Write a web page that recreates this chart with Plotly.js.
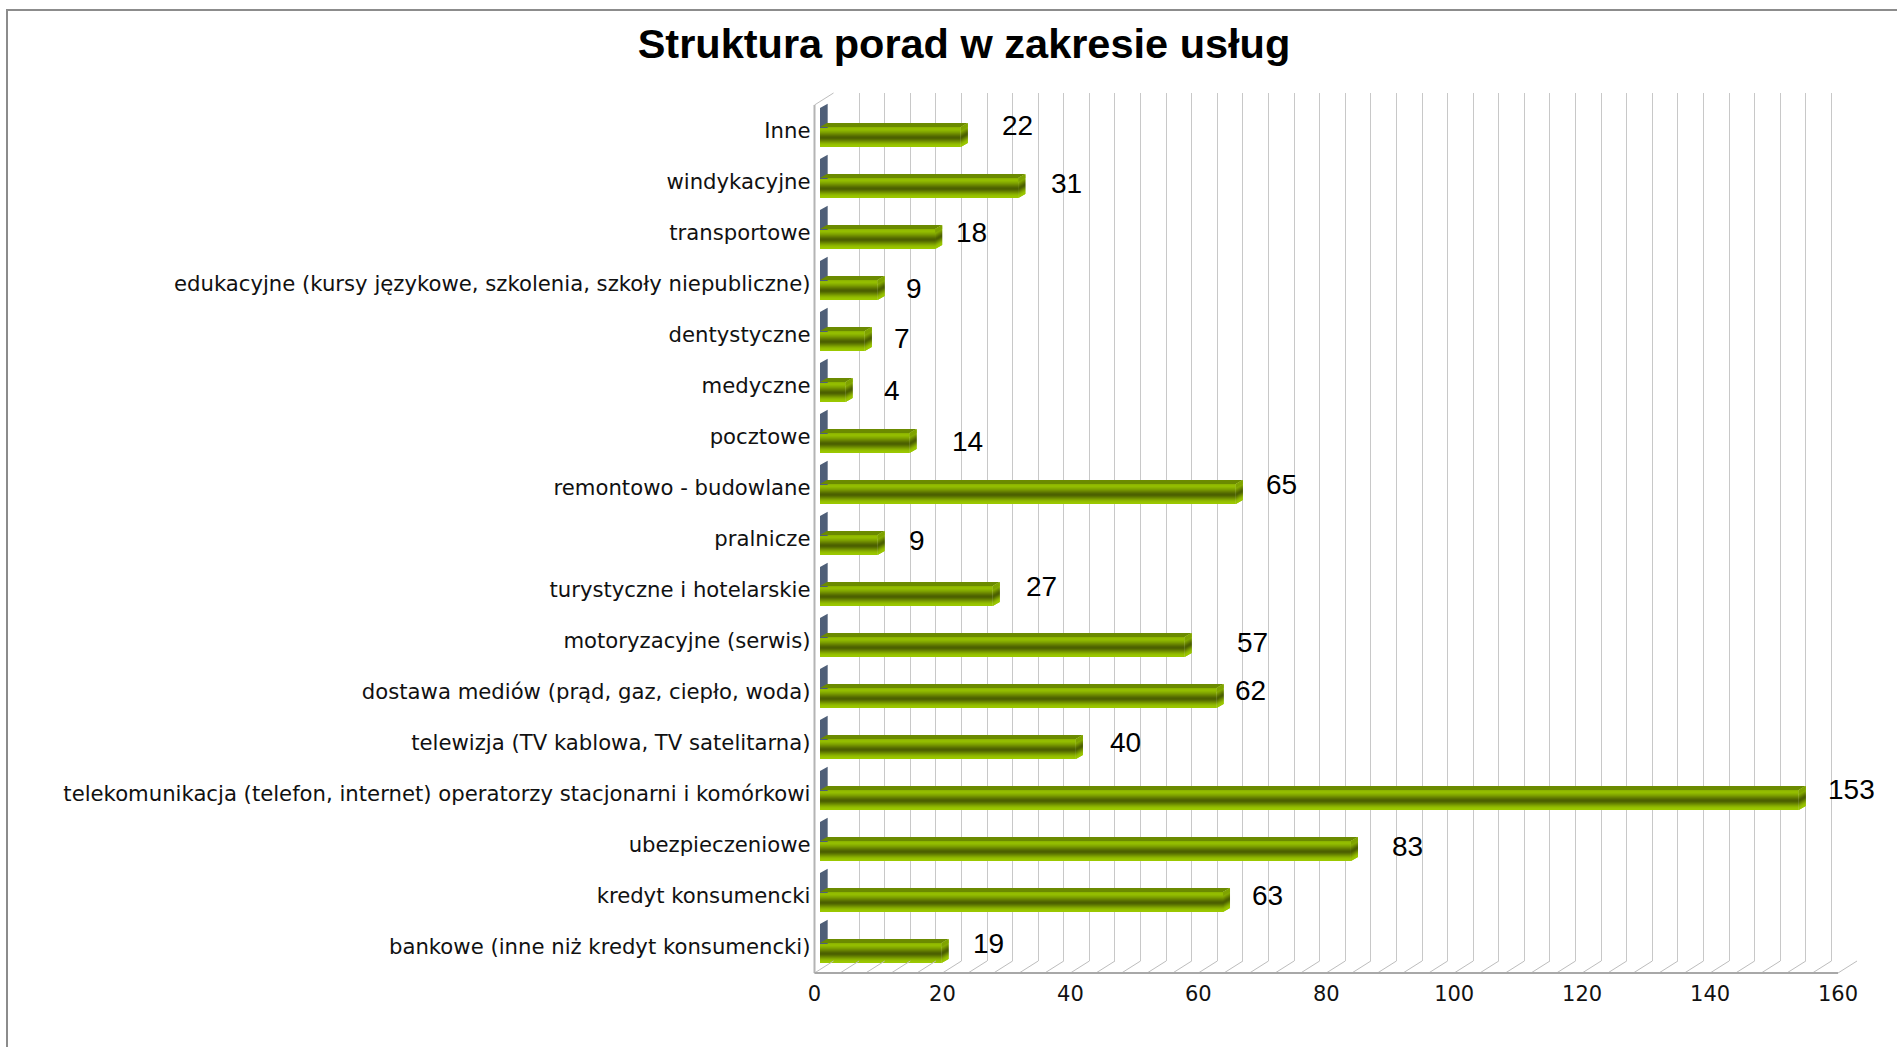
<!DOCTYPE html>
<html><head><meta charset="utf-8">
<script src="https://cdn.plot.ly/plotly-3.0.1.min.js"></script>
<style>html,body{margin:0;padding:0;background:#fff;overflow:hidden}</style></head>
<body><div id="chart" style="width:1897px;height:1047px"></div>
<script>
const categories = ["bankowe (inne niż kredyt konsumencki)","kredyt konsumencki","ubezpieczeniowe","telekomunikacja (telefon, internet) operatorzy stacjonarni i komórkowi","telewizja (TV kablowa, TV satelitarna)","dostawa mediów (prąd, gaz, ciepło, woda)","motoryzacyjne (serwis)","turystyczne i hotelarskie","pralnicze","remontowo - budowlane","pocztowe","medyczne","dentystyczne","edukacyjne (kursy językowe, szkolenia, szkoły niepubliczne)","transportowe","windykacyjne","Inne"];
const values = [19,63,83,153,40,62,57,27,9,65,14,4,7,9,18,31,22];
const labelGap = [7.3,6.9,8.8,8.3,7.8,5.3,10.6,7.7,6.2,7.2,9.1,7.2,5.8,5.7,5.7,7.5,8.8];
const labelRise = [0.10,0.05,0,0.12,0.05,0.07,0,0.10,0,0.10,-0.05,-0.05,-0.03,-0.05,0.05,0,0.14];
const xTicks = [0,20,40,60,80,100,120,140,160];
const bandColors = ["#8cb400","#93bc00","#93bd00","#8db500","#84aa00","#7b9e00","#718f00","#668100","#5b7300","#516700","#4c6000","#4f6400","#597200","#668200","#739300","#80a400","#8bb300","#94be00","#99c500","#9bc800"];

const W=1897,H=1047;
const pxPerUnit = 6.397, pxPerCat = 51;
const x0 = 814.5, xEnd = 1838, floorPx = 973, wallTopPx = 105, roomTopPx = 80, roomLeftPx = 811.5, roomBottomPx = 978;
const depthX = 19/pxPerUnit, depthY = 12/pxPerCat;
const yFloor = -20/pxPerCat, yMin = (953-roomBottomPx)/pxPerCat, yWall = (953-wallTopPx)/pxPerCat, yMax = (953-roomTopPx)/pxPerCat;
const xMin = (roomLeftPx-x0)/pxPerUnit, xMax = (W-x0)/pxPerUnit;
const barBase = 0.86, halfH = 10/pxPerCat;
const capX = 7/pxPerUnit, capY = 4/pxPerCat;
const idx = categories.map((_, i) => i);

function polys(fn){const xs=[],ys=[];idx.forEach(i=>{fn(i).forEach(p=>{xs.push(p[0]);ys.push(p[1]);});xs.push(null);ys.push(null);});return {x:xs,y:ys};}
function fillPoly(fn,color){const p=polys(fn);return {type:'scatter',mode:'lines',x:p.x,y:p.y,xaxis:'x2',yaxis:'y2',fill:'toself',fillcolor:color,line:{width:0,color:color},hoverinfo:'skip',showlegend:false};}
function lineTrace(x,y,color,width){return {type:'scatter',mode:'lines',x:x,y:y,xaxis:'x2',yaxis:'y2',line:{color:color,width:width},hoverinfo:'skip',showlegend:false};}

const traces = [];
traces.push({type:'scatter',mode:'markers',x:[0],y:[0],xaxis:'x',yaxis:'y',marker:{opacity:0},hoverinfo:'skip',showlegend:false});
const fx=[],fy=[];
for(let v=0;v<=160;v+=4){fx.push(v,v+depthX,null);fy.push(yFloor,yFloor+depthY,null);}
fx.push(0,depthX,null);fy.push(yWall,yWall+depthY,null);
traces.push(lineTrace(fx,fy,'#bdbdbd',1));
traces.push(lineTrace([0,0],[yFloor,yWall],'#b4b4b4',2));
traces.push(fillPoly(i=>[[barBase,i+halfH-0.02],[barBase,i+0.57],[barBase+1.2,i+0.65],[barBase+1.2,i+halfH-0.02]],'#4f5f78'));
traces.push(fillPoly(i=>[[barBase,i+halfH],[barBase+capX,i+halfH+capY],[barBase+values[i]+capX,i+halfH+capY],[barBase+values[i],i+halfH]],'#6b8a00'));
const bandH = 2*halfH/bandColors.length;
bandColors.forEach((c,k)=>{
  traces.push({type:'bar',orientation:'h',x:values,y:idx,base:barBase,width:bandH,offset:halfH-bandH*(k+1),xaxis:'x2',yaxis:'y2',marker:{color:c,line:{width:0}},hoverinfo:'skip',showlegend:false});
  traces.push(fillPoly(i=>{const e=barBase+values[i],t=i+halfH-bandH*k,b=Math.max(t-bandH*2.2,i-halfH);return [[e,t],[e+capX,t+capY],[e+capX,b+capY],[e,b]];},c));
});
traces.push(fillPoly(i=>{const e=barBase+values[i];return [[e,i+halfH],[e+capX,i+halfH+capY],[e+capX,i+halfH],[e,i+halfH-capY]];},'#7fa300'));

const annotations = idx.map(i=>({x:values[i]+labelGap[i]+barBase,y:i+labelRise[i]+0.08,xref:'x2',yref:'y2',text:String(values[i]),showarrow:false,xanchor:'center',yanchor:'middle',font:{family:'Liberation Sans',size:28,color:'#000'}}));

const frameColor='#8c8c8c';
const layout = {
  width:W,height:H,margin:{l:0,r:0,t:0,b:0},paper_bgcolor:'#fff',plot_bgcolor:'rgba(0,0,0,0)',
  barmode:'overlay',showlegend:false,
  title:{text:'<b>Struktura porad w zakresie usług</b>',x:964/W,xanchor:'center',y:1-43/H,yanchor:'middle',font:{family:'Liberation Sans',size:41.5,color:'#000'}},
  xaxis:{domain:[(x0+19)/W,(xEnd+19)/W],range:[0,160],dtick:4,tick0:0,showgrid:true,gridcolor:'#c8c8c8',gridwidth:1,showticklabels:false,zeroline:false,showline:false,ticks:'',anchor:'y'},
  yaxis:{domain:[1-(floorPx-12)/H,1-(wallTopPx-12)/H],range:[0,1],showgrid:false,showticklabels:false,zeroline:false,showline:false,ticks:'',anchor:'x'},
  xaxis2:{domain:[roomLeftPx/W,1],range:[xMin,xMax],tickvals:xTicks,ticktext:xTicks.map(String),ticklabelstandoff:1,showgrid:false,zeroline:false,showline:false,ticks:'',ticklen:0,tickfont:{family:'DejaVu Sans',size:21,color:'#111'},anchor:'y2',side:'bottom'},
  yaxis2:{domain:[1-roomBottomPx/H,1-roomTopPx/H],range:[yMin,yMax],tickvals:idx,ticktext:categories,ticklabelshift:-6,ticklabelstandoff:0,showgrid:false,zeroline:false,showline:false,ticks:'',tickfont:{family:'DejaVu Sans',size:21.2,color:'#111'},anchor:'x2',side:'left'},
  annotations:annotations,
  shapes:[
    {type:'line',xref:'paper',yref:'paper',x0:x0/W,x1:xEnd/W,y0:1-floorPx/H,y1:1-floorPx/H,line:{color:'#a8a8a8',width:2}},
    {type:'line',xref:'paper',yref:'paper',x0:7/W,x1:7/W,y0:0,y1:1-9/H,line:{color:frameColor,width:2}},
    {type:'line',xref:'paper',yref:'paper',x0:7/W,x1:1,y0:1-10/H,y1:1-10/H,line:{color:frameColor,width:2}}
  ]
};
Plotly.newPlot('chart',traces,layout,{staticPlot:true,displayModeBar:false});
</script></body></html>
